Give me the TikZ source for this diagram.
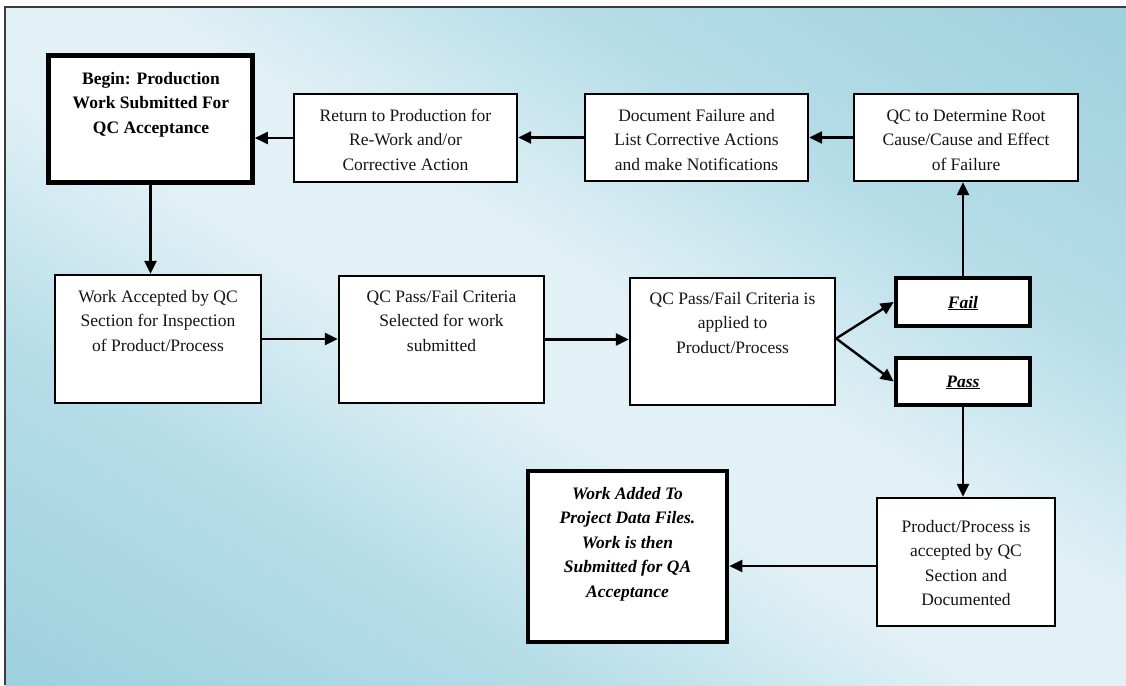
\documentclass[tikz,border=0pt]{standalone}
\usepackage{fontspec}
\setmainfont{Liberation Serif}
\usetikzlibrary{arrows.meta,calc}

\definecolor{bgdark}{RGB}{136,197,214}
\definecolor{bgmid}{RGB}{182,221,232}
\definecolor{bglight}{RGB}{226,241,246}
\definecolor{frameline}{RGB}{60,60,60}
\definecolor{ink}{RGB}{20,20,20}

% diagonal panel gradient: dark corners, light band through the middle
\pgfdeclareverticalshading{panel}{100bp}{
  color(0bp)=(bgdark); color(33bp)=(bgmid); color(46bp)=(bglight);
  color(54bp)=(bglight); color(67bp)=(bgmid); color(100bp)=(bgdark)}

\newcommand{\flowfont}{\fontsize{17.5}{24.5}\selectfont}

\tikzset{
  box/.style={draw=black, line width=2.4pt, fill=white, inner sep=0pt},
  heavybox/.style={box, line width=4.6pt},
  lbl/.style={align=center, inner sep=0pt, font=\flowfont, text=ink, anchor=base},
  flow/.style={line width=2.4pt, -{Triangle[length=13pt,width=12pt]}},
}

\begin{document}
\begin{tikzpicture}[x=1pt, y=-1pt]
  \useasboundingbox (0,0) rectangle (1126,685);
  % page and gradient panel
  \fill[white] (0,0) rectangle (1126,685);
  \shade[shading=panel, shading angle=-31.3] (5,7) rectangle (1126,685);
  \draw[frameline, line width=2pt] (5,685) -- (5,7) -- (1126,7);

  % top row
  \node[heavybox, minimum width=204pt, minimum height=127pt] (begin) at (150.5,119) {};
  \node[box, minimum width=223pt, minimum height=88pt] (ret) at (405.5,138) {};
  \node[box, minimum width=223pt, minimum height=87pt] (doc) at (696.5,137.5) {};
  \node[box, minimum width=224pt, minimum height=87pt] (root) at (966,137.5) {};

  % middle row
  \node[box, minimum width=206pt, minimum height=128pt] (work) at (158,339) {};
  \node[box, minimum width=205pt, minimum height=127pt] (sel) at (441.5,339.5) {};
  \node[box, minimum width=205pt, minimum height=127pt] (app) at (732.5,341.5) {};
  \node[heavybox, minimum width=134pt, minimum height=48pt] (fail) at (963,302) {};
  \node[heavybox, minimum width=134pt, minimum height=47pt] (pass) at (963,381.5) {};

  % bottom row
  \node[heavybox, minimum width=199pt, minimum height=171pt] (added) at (627.5,556.5) {};
  \node[box, minimum width=178pt, minimum height=128pt] (prod) at (966,562) {};

  % labels (base anchor sits on the last line)
  \node[lbl, font=\flowfont\bfseries, text=black] (begin-t) at (151,133)
    {Begin: Production\\Work Submitted For\\QC Acceptance};
  \node[lbl] (ret-t) at (405.5,170) {Return to Production for\\Re-Work and/or\\Corrective Action};
  \node[lbl] (doc-t) at (696.5,170) {Document Failure and\\List Corrective Actions\\and make Notifications};
  \node[lbl] (root-t) at (966,170) {QC to Determine Root\\Cause/Cause and Effect\\of Failure};
  \node[lbl] (work-t) at (158,351) {Work Accepted by QC\\Section for Inspection\\of Product/Process};
  \node[lbl] (sel-t) at (441.5,351) {QC Pass/Fail Criteria\\Selected for work\\submitted};
  \node[lbl] (app-t) at (732.5,353) {QC Pass/Fail Criteria is\\applied to\\Product/Process};
  \node[lbl, text=black] (fail-t) at (963,308) {\underline{\textbf{\textit{Fail}}}};
  \node[lbl, text=black] (pass-t) at (963,387) {\underline{\textbf{\textit{Pass}}}};
  \node[lbl, font=\flowfont\bfseries\itshape, text=black] (added-t) at (627.5,597)
    {Work Added To\\Project Data Files.\\Work is then\\Submitted for QA\\Acceptance};
  \node[lbl] (prod-t) at (966,605.5) {Product/Process is\\accepted by QC\\Section and\\Documented};

  % connectors
  \draw[flow] (root.west) -- (doc.east);
  \draw[flow] (doc.west) -- (doc.west -| ret.east);
  \draw[flow] (ret.west) -- (ret.west -| begin.east);
  \draw[flow] (begin.south) -- (begin.south |- work.north);
  \draw[flow] (work.east) -- (work.east -| sel.west);
  \draw[flow] (sel.east) -- (sel.east -| app.west);
  \draw[flow] ([yshift=3pt]app.east) -- (fail.west);
  \draw[flow] ([yshift=3pt]app.east) -- (pass.west);
  \draw[flow] (fail.north) -- (fail.north |- root.south);
  \draw[flow] (pass.south) -- (pass.south |- prod.north);
  \draw[flow] ([yshift=-4pt]prod.west) -- ([yshift=-4pt]prod.west -| added.east);
\end{tikzpicture}
\end{document}
